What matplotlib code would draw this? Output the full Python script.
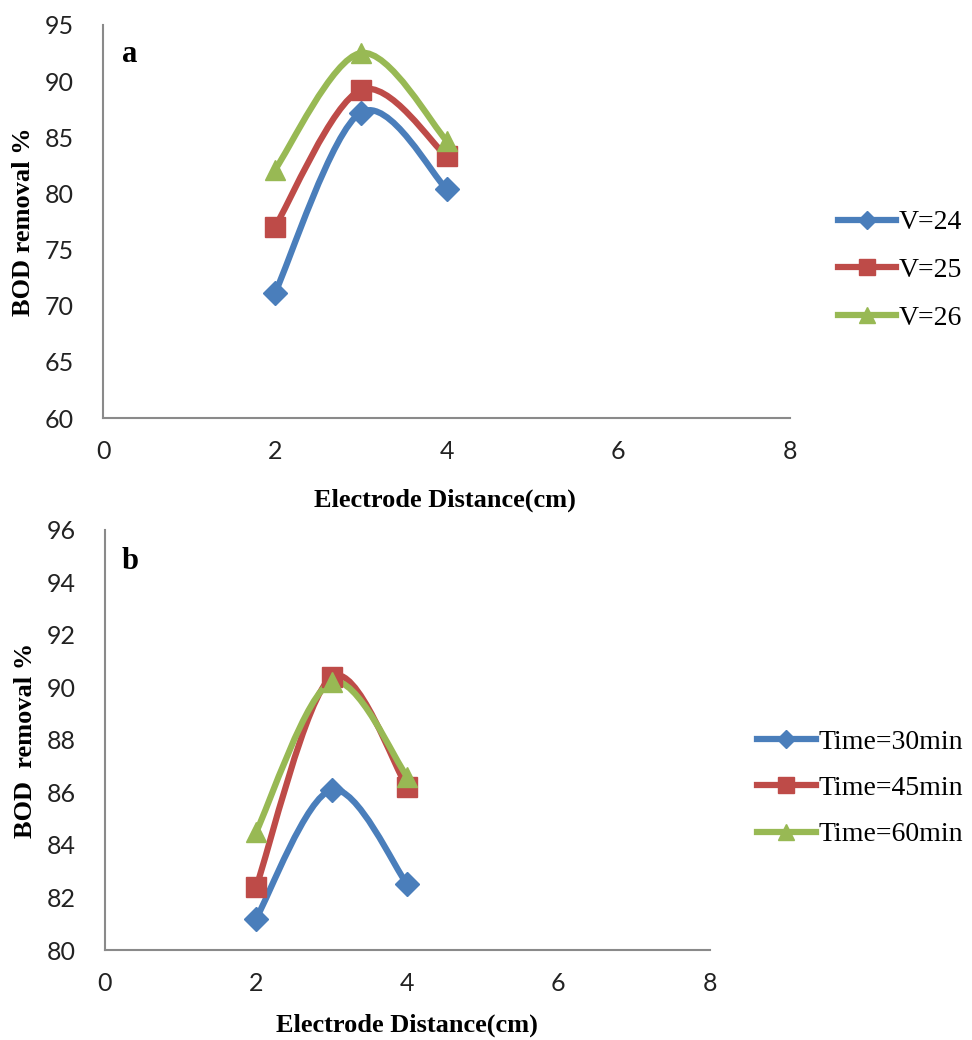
import numpy as np
import matplotlib
matplotlib.use('Agg')
from matplotlib import pyplot as plt
from matplotlib.path import Path
from matplotlib.patches import PathPatch

# values
distance = [2, 3, 4]

bod_v24 = [71.1, 87.2, 80.4]
bod_v25 = [77.0, 89.2, 83.3]
bod_v26 = [82.1, 92.5, 84.7]
labels_a = ['V=24', 'V=25', 'V=26']

bod_t30 = [81.2, 86.1, 82.5]
bod_t45 = [82.4, 90.4, 86.2]
bod_t60 = [84.5, 90.2, 86.6]
labels_b = ['Time=30min', 'Time=45min', 'Time=60min']

colors = ['#4A7EBB', '#BE4B48', '#98B954']
markers = ['D', 's', '^']
msizes = [12, 14, 15]

tick_font = 'Lato'
serif = 'Liberation Serif'


def smooth_path(x, y):
    # excel style smoothed line: catmull-rom bezier through the points
    pts = np.column_stack([x, y]).astype(float)
    ext = np.vstack([pts[0], pts, pts[-1]])
    verts = [pts[0]]
    codes = [Path.MOVETO]
    for i in range(len(pts) - 1):
        p0, p1, p2, p3 = ext[i], ext[i + 1], ext[i + 2], ext[i + 3]
        c1 = p1 + (p2 - p0) / 6.0
        c2 = p2 - (p3 - p1) / 6.0
        verts += [c1, c2, p2]
        codes += [Path.CURVE4] * 3
    return Path(verts, codes)


def draw_panel(ax, series, labels, ylim, yticks, letter, ylabel):
    for vals, lab, c, m, ms in zip(series, labels, colors, markers, msizes):
        ax.add_patch(PathPatch(smooth_path(distance, vals), facecolor='none',
                               edgecolor=c, lw=4.5, capstyle='round', zorder=2))
        ax.plot(distance, vals, ls='none', marker=m, ms=ms, color=c, zorder=3)
        # legend proxy
        ax.plot([], [], color=c, lw=4.5, marker=m, ms=ms * 0.8, label=lab)
    ax.set_xlim(0, 8)
    ax.set_ylim(*ylim)
    ax.set_xticks([0, 2, 4, 6, 8])
    ax.set_yticks(yticks)
    for s in ['top', 'right']:
        ax.spines[s].set_visible(False)
    for s in ['left', 'bottom']:
        ax.spines[s].set_color('#8a8a8a')
        ax.spines[s].set_linewidth(1.5)
    ax.spines['left'].set_zorder(1)
    ax.spines['bottom'].set_zorder(1)
    ax.tick_params(length=0, labelsize=18, colors='#222222')
    ax.tick_params(axis='y', pad=21)
    ax.tick_params(axis='x', pad=16)
    for t in ax.get_xticklabels() + ax.get_yticklabels():
        t.set_fontfamily(tick_font)
    ax.text(0.028, 0.925, letter, transform=ax.transAxes, fontsize=22,
            fontweight='bold', family=serif, va='center')
    ax.set_ylabel(ylabel, fontsize=19, fontweight='bold', family=serif,
                  va='center')
    ax.set_xlabel('Electrode Distance(cm)', fontsize=19, fontweight='bold',
                  family=serif, va='center')


fig = plt.figure(figsize=(9.72, 10.4), dpi=100)

ax1 = fig.add_axes([0.106, 0.598, 0.707, 0.378])
draw_panel(ax1, [bod_v24, bod_v25, bod_v26], labels_a, (60, 95),
           [60, 65, 70, 75, 80, 85, 90, 95], 'a', 'BOD removal %')
ax1.yaxis.set_label_coords(-0.116, 0.5)
ax1.xaxis.set_label_coords(0.498, -0.209)
ax1.legend(loc='center left', bbox_to_anchor=(0.862, 0.740),
           bbox_transform=fig.transFigure, frameon=False,
           prop={'family': serif, 'size': 20}, handlelength=2.1,
           handletextpad=0.1, labelspacing=0.8, borderpad=0,
           borderaxespad=0)

ax2 = fig.add_axes([0.108, 0.0865, 0.622, 0.404])
draw_panel(ax2, [bod_t30, bod_t45, bod_t60], labels_b, (80, 96),
           [80, 82, 84, 86, 88, 90, 92, 94, 96], 'b', 'BOD  removal %')
ax2.yaxis.set_label_coords(-0.132, 0.5)
ax2.xaxis.set_label_coords(0.50, -0.18)
ax2.legend(loc='center left', bbox_to_anchor=(0.779, 0.242),
           bbox_transform=fig.transFigure, frameon=False,
           prop={'family': serif, 'size': 20}, handlelength=2.1,
           handletextpad=0.1, labelspacing=0.75, borderpad=0,
           borderaxespad=0)

fig.savefig('out.png', dpi=100)
